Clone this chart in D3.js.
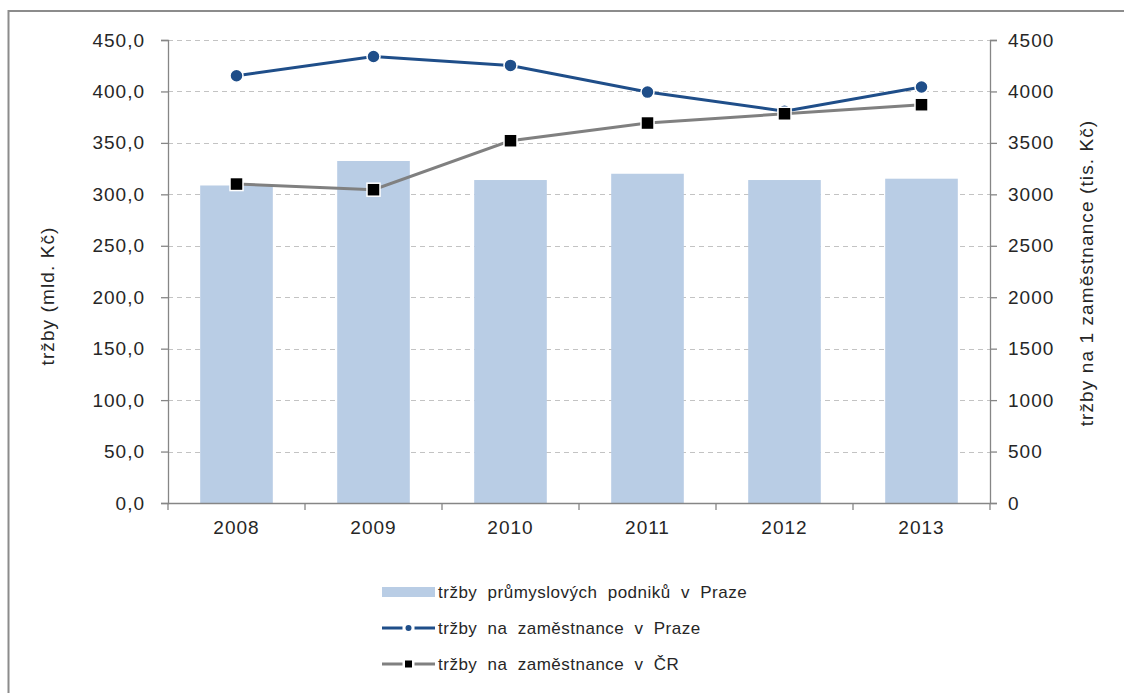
<!DOCTYPE html>
<html><head><meta charset="utf-8">
<script src="https://cdn.jsdelivr.net/npm/d3@7/dist/d3.min.js"></script>
<style>
html,body{margin:0;padding:0;background:#fff;}
svg text{font-family:"Liberation Sans",Arial,sans-serif;fill:#262626;}
</style></head>
<body>
<svg id="chart" width="1124" height="693"></svg>
<script>
const years = ["2008","2009","2010","2011","2012","2013"];
const trzbyPodniku = [308.6, 332.4, 313.9, 320.0, 313.9, 315.2];
const zamPraha = [4153, 4340, 4253, 3994, 3808, 4043];
const zamCR = [3100, 3045, 3521, 3693, 3783, 3871];
const leftTicks = [0,50,100,150,200,250,300,350,400,450];
const rightTicks = [0,500,1000,1500,2000,2500,3000,3500,4000,4500];
const legendLabels = ["tržby průmyslových podniků v Praze","tržby na zaměstnance v Praze","tržby na zaměstnance v ČR"];

const svg = d3.select("#chart");
const L = 168, R = 990, T = 40, B = 503;
const axisCol = "#868686", gridCol = "#c3c3c3";
const barCol = "#b9cde5", blue = "#1f4e89", grey = "#808080";

svg.append("rect").attr("x",8.5).attr("y",11).attr("width",1140).attr("height",700)
  .attr("fill","none").attr("stroke","#8c8c8c").attr("stroke-width",2);

const x = d3.scaleBand().domain(years).range([L,R]).paddingInner(0.47).paddingOuter(0.235);
const xb = d3.scaleBand().domain(years).range([L,R]);
const yL = d3.scaleLinear().domain([0,450]).range([B,T]);
const yR = d3.scaleLinear().domain([0,4500]).range([B,T]);
const fmt = d => d3.format(".1f")(d).replace(".",",");

svg.append("g").selectAll("line").data(leftTicks.filter(d=>d>0)).join("line")
  .attr("x1",L).attr("x2",R).attr("y1",d=>Math.round(yL(d))+0.5).attr("y2",d=>Math.round(yL(d))+0.5)
  .attr("stroke",gridCol).attr("stroke-width",1).attr("stroke-dasharray","5,4");

svg.append("g").selectAll("rect").data(years).join("rect")
  .attr("x",d=>x(d)).attr("width",x.bandwidth())
  .attr("y",(d,i)=>yL(trzbyPodniku[i])).attr("height",(d,i)=>B-yL(trzbyPodniku[i]))
  .attr("fill",barCol);

const gl = svg.append("g").attr("transform",`translate(${L},0)`)
  .call(d3.axisLeft(yL).tickValues(leftTicks).tickFormat(fmt).tickSize(7).tickPadding(16));
const gr = svg.append("g").attr("transform",`translate(${R},0)`)
  .call(d3.axisRight(yR).tickValues(rightTicks).tickFormat(d3.format("d")).tickSize(7).tickPadding(11));
const gx = svg.append("g").attr("transform",`translate(0,${B})`)
  .call(d3.axisBottom(xb).tickSize(0).tickPadding(18));
const bounds = years.map(d=>xb(d)).concat([R]);
svg.append("g").selectAll("line").data(bounds).join("line")
  .attr("x1",d=>d).attr("x2",d=>d).attr("y1",B).attr("y2",B+7)
  .attr("stroke",axisCol).attr("stroke-width",1.3);
[gl,gr,gx].forEach(g=>{
  g.select(".domain").attr("stroke",axisCol).attr("stroke-width",1.3);
  g.selectAll(".tick line").attr("stroke",axisCol).attr("stroke-width",1.3);
  g.selectAll("text").attr("font-size",19).attr("fill","#262626").style("letter-spacing","1px")
    .attr("font-family","Liberation Sans, Arial, sans-serif");
});
gx.select(".domain").attr("d",`M${L},0.5H${R}`);

svg.append("text").attr("transform","translate(54,296) rotate(-90)").attr("text-anchor","middle")
  .attr("font-size",19).style("letter-spacing","1.1px").text("tržby (mld. Kč)");
svg.append("text").attr("transform","translate(1093,273) rotate(-90)").attr("text-anchor","middle")
  .attr("font-size",19).style("letter-spacing","1.1px").text("tržby na 1 zaměstnance (tis. Kč)");

const cx = d=>xb(d)+xb.bandwidth()/2;
const line = arr => d3.line().x((d,i)=>cx(years[i])).y((d,i)=>yR(arr[i]));

svg.append("path").datum(zamPraha).attr("d",line(zamPraha)).attr("fill","none")
  .attr("stroke",blue).attr("stroke-width",3);
svg.append("g").selectAll("circle").data(zamPraha).join("circle")
  .attr("cx",(d,i)=>cx(years[i])).attr("cy",d=>yR(d)).attr("r",6.5)
  .attr("fill",blue).attr("stroke","#fff").attr("stroke-width",1.5);
svg.append("path").datum(zamCR).attr("d",line(zamCR)).attr("fill","none")
  .attr("stroke",grey).attr("stroke-width",3);
svg.append("g").selectAll("rect").data(zamCR).join("rect")
  .attr("x",(d,i)=>cx(years[i])-6.5).attr("y",d=>yR(d)-6.5).attr("width",13).attr("height",13)
  .attr("fill","#000").attr("stroke","#fff").attr("stroke-width",1.5);

const lg = svg.append("g");
const ly = [592,628,664], lx0 = 382, lx1 = 435;
lg.append("rect").attr("x",lx0).attr("y",ly[0]-5).attr("width",lx1-lx0).attr("height",10).attr("fill",barCol);
[[blue,1],[grey,2]].forEach(([c,i])=>{
  lg.append("line").attr("x1",lx0).attr("x2",lx1).attr("y1",ly[i]).attr("y2",ly[i]).attr("stroke",c).attr("stroke-width",3);
});
lg.append("rect").attr("x",(lx0+lx1)/2-6).attr("y",ly[1]-4).attr("width",12).attr("height",8).attr("fill","#fff");
lg.append("circle").attr("cx",(lx0+lx1)/2).attr("cy",ly[1]).attr("r",3).attr("fill",blue);
lg.append("rect").attr("x",(lx0+lx1)/2-6).attr("y",ly[2]-5).attr("width",12).attr("height",10).attr("fill","#fff");
lg.append("rect").attr("x",(lx0+lx1)/2-3.5).attr("y",ly[2]-3.5).attr("width",7).attr("height",7).attr("fill","#000");
lg.selectAll("text.lab").data(legendLabels).join("text").attr("class","lab")
  .attr("x",438).attr("y",(d,i)=>ly[i]+6).attr("font-size",17).attr("fill","#262626")
  .style("word-spacing","5px").style("letter-spacing","0.5px").text(d=>d);
</script>
</body></html>
